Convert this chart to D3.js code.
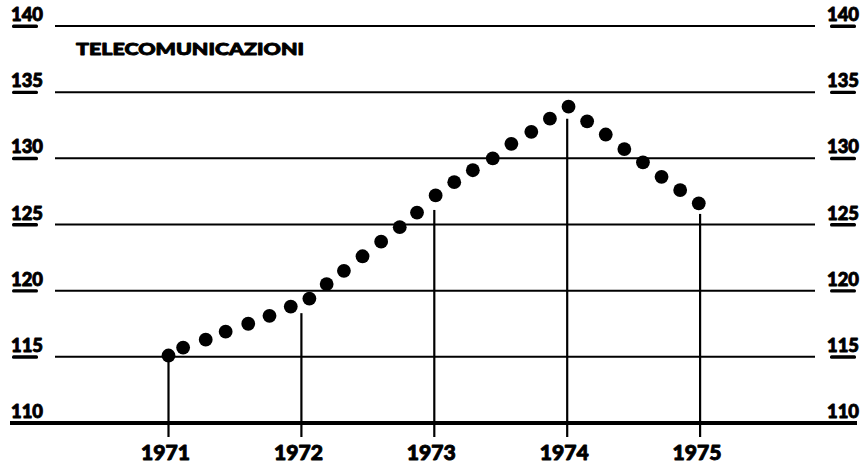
<!DOCTYPE html>
<html>
<head>
<meta charset="utf-8">
<script src="https://cdn.jsdelivr.net/npm/d3@7/dist/d3.min.js"></script>
<style>
  html, body { margin: 0; padding: 0; background: #fff; }
  svg { display: block; }
  text { font-family: Lato, "DejaVu Sans", sans-serif; font-weight: 900; fill: #000;
         stroke: #000; stroke-width: 0.9px; stroke-linejoin: round; }
</style>
</head>
<body>
<svg id="chart" width="866" height="464"></svg>
<script>
// Telecommunications index, 1971-1975
const title = "TELECOMUNICAZIONI";
const yearTicks = [1971, 1972, 1973, 1974, 1975];
const yTicks = [110, 115, 120, 125, 130, 135, 140];

// observation dates (fractional years) and index values
const dates = [
  1971.00, 1971.11, 1971.28, 1971.43, 1971.60, 1971.76, 1971.92,
  1972.06, 1972.19, 1972.32, 1972.46, 1972.60, 1972.74, 1972.87,
  1973.01, 1973.15, 1973.29, 1973.44, 1973.58, 1973.73, 1973.87,
  1974.01, 1974.15, 1974.29, 1974.43, 1974.57, 1974.71, 1974.85,
  1974.99
];
const values = [
  115.1, 115.7, 116.3, 116.9, 117.5, 118.1, 118.8,
  119.4, 120.5, 121.5, 122.6, 123.7, 124.8, 125.9,
  127.2, 128.2, 129.1, 130.0, 131.1, 132.0, 133.0,
  133.9, 132.8, 131.8, 130.7, 129.7, 128.6, 127.6,
  126.6
];
// height reached by the vertical marker at each year
const stemTops = [115.1, 118.3, 126.1, 133.0, 125.8];

const svg = d3.select("#chart");

const x = d3.scaleLinear().domain([1971, 1975]).range([168.5, 700.1]);
const y = d3.scaleLinear().domain([110, 140]).range([423, 26]);

// horizontal grid lines
const gridTicks = yTicks.filter(v => v !== 110);
svg.append("g")
  .selectAll("line")
  .data(gridTicks)
  .join("line")
  .attr("x1", 55).attr("x2", 815)
  .attr("y1", d => y(d)).attr("y2", d => y(d))
  .attr("stroke", "#000").attr("stroke-width", 2);

// base line
svg.append("line")
  .attr("x1", 10).attr("x2", 857)
  .attr("y1", y(110)).attr("y2", y(110))
  .attr("stroke", "#000").attr("stroke-width", 4);

// vertical year markers
svg.append("g")
  .selectAll("line")
  .data(yearTicks)
  .join("line")
  .attr("x1", d => x(d)).attr("x2", d => x(d))
  .attr("y1", y(110) + 14)
  .attr("y2", (d, i) => y(stemTops[i]))
  .attr("stroke", "#000").attr("stroke-width", 2.2);

// y labels on both sides, underlined
function yLabels(side) {
  const g = svg.append("g");
  const lab = g.selectAll("g")
    .data(yTicks)
    .join("g");
  lab.append("text")
    .attr("font-size", 18.5)
    .attr("x", side === "left" ? 11 : 859)
    .attr("y", d => y(d) - 5)
    .attr("text-anchor", side === "left" ? "start" : "end")
    .attr("textLength", 32)
    .attr("lengthAdjust", "spacingAndGlyphs")
    .text(d => d);
  lab.filter(d => d !== 110).append("rect")
    .attr("x", side === "left" ? 12 : 830)
    .attr("y", d => y(d) - 1.5)
    .attr("width", 26)
    .attr("height", 3.4)
    .attr("rx", 1.5)
    .attr("fill", "#000");
}
yLabels("left");
yLabels("right");

// year labels
svg.append("g")
  .selectAll("text")
  .data(yearTicks)
  .join("text")
  .attr("x", d => x(d) - 3)
  .attr("y", 460)
  .attr("text-anchor", "middle")
  .attr("font-size", 20)
  .attr("textLength", 49)
  .attr("lengthAdjust", "spacingAndGlyphs")
  .text(d => d);

// title
svg.append("text")
  .attr("x", 76)
  .attr("y", 55)
  .attr("font-size", 16.5)
  .attr("textLength", 228)
  .attr("lengthAdjust", "spacingAndGlyphs")
  .text(title);

// data points
svg.append("g")
  .selectAll("circle")
  .data(dates.map((d, i) => ({ d, v: values[i] })))
  .join("circle")
  .attr("cx", p => x(p.d))
  .attr("cy", p => y(p.v))
  .attr("r", 6.9)
  .attr("fill", "#000");
</script>
</body>
</html>
